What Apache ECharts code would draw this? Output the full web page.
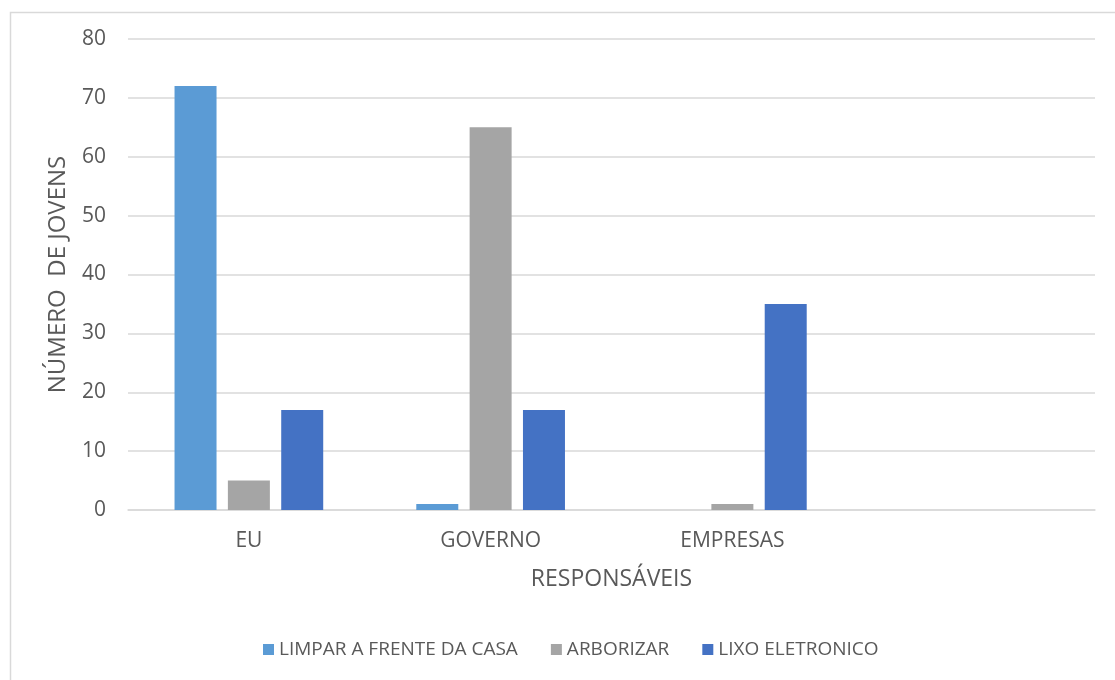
<!DOCTYPE html>
<html>
<head>
<meta charset="utf-8">
<script src="https://cdn.jsdelivr.net/npm/echarts@6/dist/echarts.min.js"></script>
<style>
html,body{margin:0;padding:0;background:#fff;}
#chart{width:1115px;height:680px;}
</style>
</head>
<body>
<div id="chart"></div>
<script>
const categories = ['EU', 'GOVERNO', 'EMPRESAS', ''];
const limparFrente = [72, 1, 0, null];
const arborizar = [5, 65, 1, null];
const lixoEletronico = [17, 17, 35, null];
const seriesNames = ['LIMPAR A FRENTE DA CASA', 'ARBORIZAR', 'LIXO ELETRONICO'];
const yTicks = [0, 10, 20, 30, 40, 50, 60, 70, 80];

const FONT = 'Open Sans';
const TXT = '#595959';
const GRID = '#D9D9D9';
const colors = ['#5B9BD5', '#A5A5A5', '#4472C4'];

const chart = echarts.init(document.getElementById('chart'), null, {renderer: 'canvas'});
const mk = (name, data, i) => ({
  name, type: 'bar', data,
  barWidth: 42, barGap: '27%',
  itemStyle: {color: colors[i]},
  animation: false
});
chart.setOption({
  animation: false,
  textStyle: {fontFamily: FONT, color: TXT},
  graphic: [{
    type: 'rect', left: 8, top: 10,
    shape: {width: 1200, height: 800},
    style: {fill: 'none', stroke: GRID, lineWidth: 1.5},
    silent: true, z: -1
  }],
  grid: {left: 128, right: 20, top: 39, bottom: 170, containLabel: false},
  legend: {
    bottom: 16, left: 258,
    itemWidth: 11, itemHeight: 11, itemGap: 33,
    icon: 'rect',
    textStyle: {fontFamily: FONT, fontSize: 19, color: TXT},
    data: seriesNames
  },
  xAxis: {
    type: 'category', data: categories,
    name: 'RESPONSÁVEIS', nameLocation: 'middle', nameGap: 58,
    nameTextStyle: {fontFamily: FONT, fontSize: 23, color: TXT},
    axisLine: {lineStyle: {color: GRID, width: 1.5}},
    axisTick: {show: false},
    axisLabel: {fontFamily: FONT, fontSize: 21, color: TXT, margin: 21, interval: 0}
  },
  yAxis: {
    type: 'value', min: 0, max: 80, interval: 10,
    name: 'NÚMERO  DE JOVENS', nameLocation: 'middle', nameGap: 58,
    nameTextStyle: {fontFamily: FONT, fontSize: 24, color: TXT},
    axisLine: {show: false},
    axisTick: {show: false},
    splitLine: {lineStyle: {color: GRID, width: 1.5}},
    axisLabel: {fontFamily: FONT, fontSize: 21, color: TXT, margin: 22,
      formatter: v => yTicks.includes(v) ? String(v) : ''}
  },
  series: [
    mk(seriesNames[0], limparFrente, 0),
    mk(seriesNames[1], arborizar, 1),
    mk(seriesNames[2], lixoEletronico, 2)
  ]
});
</script>
</body>
</html>
